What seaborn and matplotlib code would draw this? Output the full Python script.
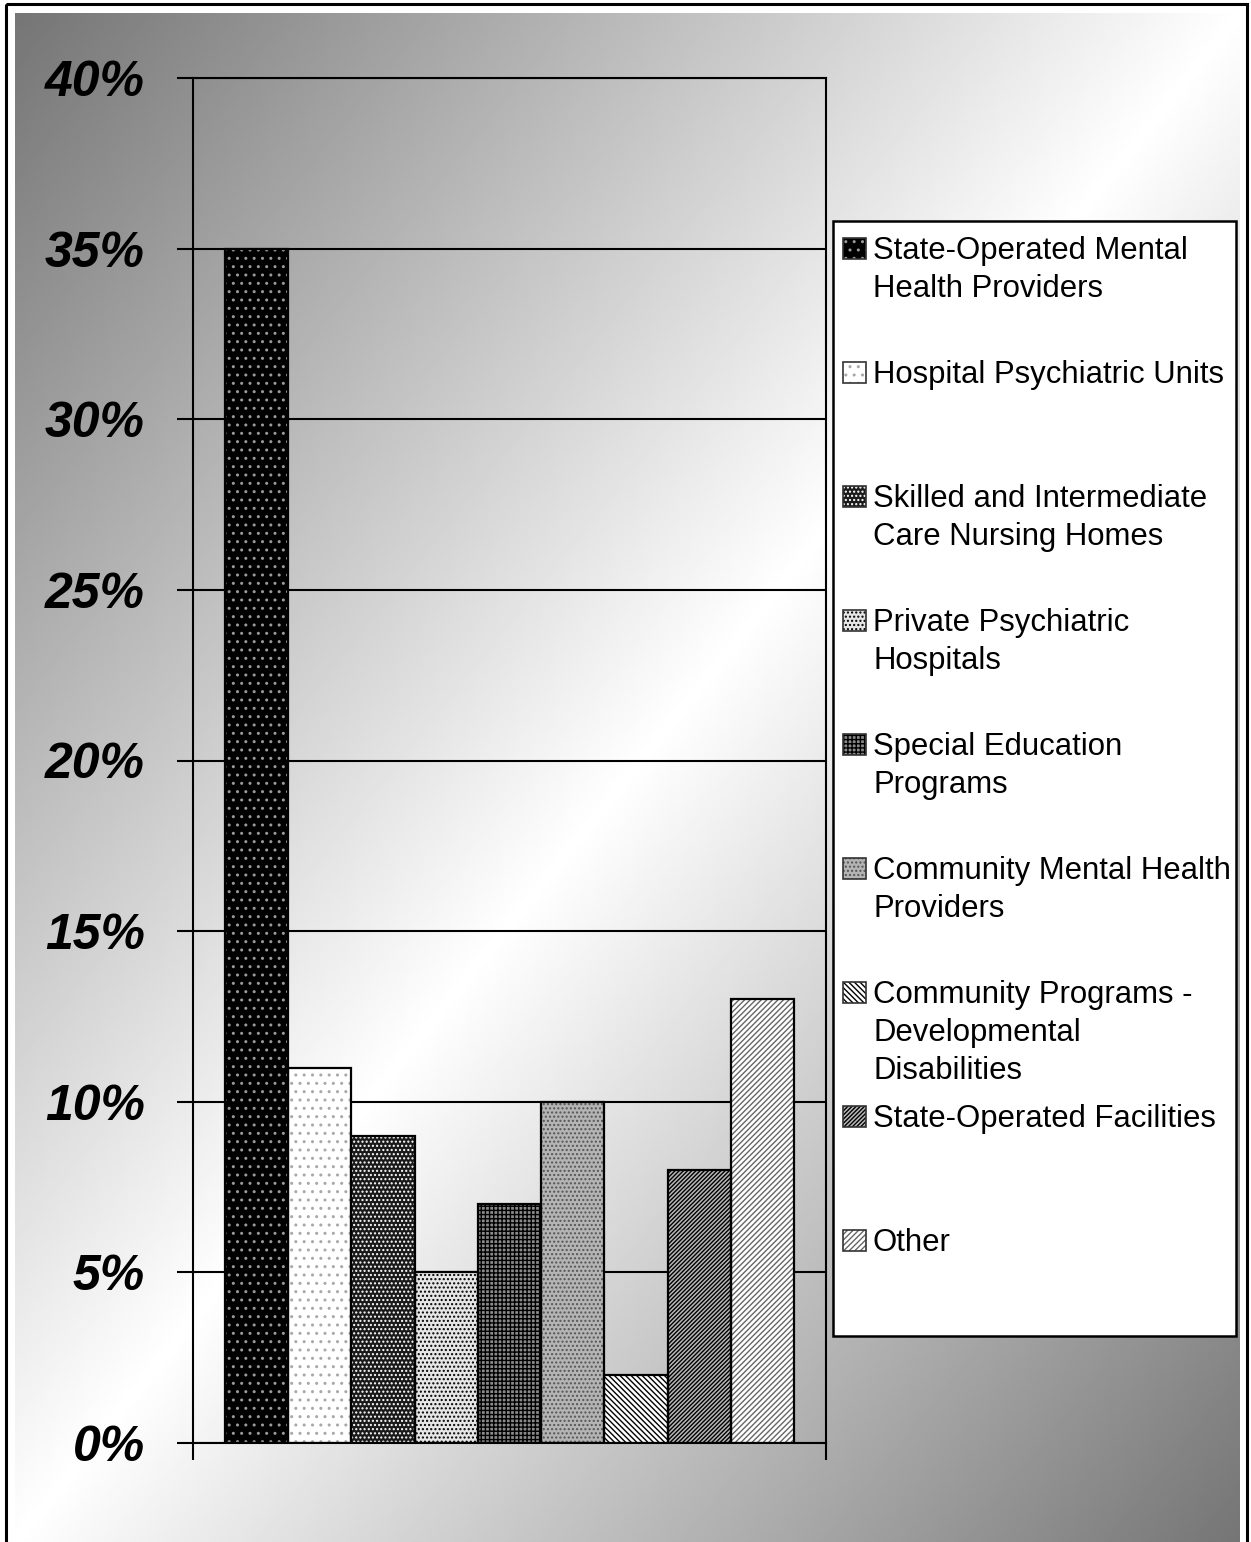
import numpy as np
import pandas as pd
import matplotlib
matplotlib.use('Agg')
import matplotlib.pyplot as plt
from matplotlib.patches import Rectangle
import seaborn as sns

# data
categories = ['State-Operated Mental\nHealth Providers',
              'Hospital Psychiatric Units',
              'Skilled and Intermediate\nCare Nursing Homes',
              'Private Psychiatric\nHospitals',
              'Special Education\nPrograms',
              'Community Mental Health\nProviders',
              'Community Programs -\nDevelopmental\nDisabilities',
              'State-Operated Facilities',
              'Other']
shares = [35, 11, 9, 5, 7, 10, 2, 8, 13]
y_ticks = [0, 5, 10, 15, 20, 25, 30, 35, 40]

# fill colour, hatch pattern, hatch colour (imitating Excel pattern fills)
face_colors = ['#000000', '#ffffff', '#1a1a1a', '#e6e6e6', '#8a8a8a',
               '#b4b4b4', '#ffffff', '#b8b8b8', '#ffffff']
hatches = ['..', '..', '....', '....', '++++', '....',
           '\\\\\\\\\\\\', '////////', '//////']
hatch_colors = ['#9a9a9a', '#a8a8a8', '#ffffff', '#000000', '#000000',
                '#555555', '#000000', '#000000', '#666666']

W, H = 1251, 1542
plt.rcParams['hatch.linewidth'] = 1.0

fig = plt.figure(figsize=(W / 100, H / 100), dpi=100)

# background: diagonal gray gradient inside a black frame
bg = fig.add_axes([0, 0, 1, 1])
u = np.linspace(0, 1, 600)
v = np.linspace(0, 1, 700)
uu, vv = np.meshgrid(u, v)
t = (uu + vv) / 2
dark = 0.46
grad = dark + (1 - dark) * (1 - np.abs(2 * t - 1))
bg.imshow(grad, extent=(15, 1240, 1542, 13), cmap='gray', vmin=0, vmax=1,
          aspect='auto', interpolation='bilinear')
bg.add_patch(Rectangle((6, 4), 1241, 1600, fill=False, edgecolor='black', lw=2.2))
bg.set_xlim(0, W)
bg.set_ylim(H, 0)
bg.axis('off')

# main plot area
ax = fig.add_axes([193 / W, (H - 1443) / H, 633 / W, 1365 / H])
ax.set_facecolor('none')

df = pd.DataFrame({'group': [''] * len(categories),
                   'type': categories,
                   'share': [s / 100 for s in shares]})
sns.barplot(data=df, x='group', y='share', hue='type', hue_order=categories,
            palette=face_colors, width=0.9, saturation=1, legend=False,
            edgecolor='black', linewidth=1.5, ax=ax)

bars = sorted(ax.patches, key=lambda p: p.get_x())
for p, hc, h in zip(bars, hatch_colors, hatches):
    p.set_hatch(h)
    p.set_edgecolor(hc)
    p.set_linewidth(0)
    ax.add_patch(Rectangle(p.get_xy(), p.get_width(), p.get_height(), fill=False,
                           edgecolor='black', lw=1.6, zorder=p.get_zorder() + 0.1))

ax.set_ylim(0, 0.40)
ax.set_xlim(-0.5, 0.5)
ax.set_yticks([y / 100 for y in y_ticks])
ax.set_yticklabels([f'{y}%' for y in y_ticks], fontfamily='Liberation Sans',
                   fontsize=36, fontweight='bold', fontstyle='italic')
ax.set_xticks([-0.5, 0.5])
ax.set_xticklabels(['', ''])
ax.tick_params(axis='y', direction='out', length=11.5, width=1.5, pad=23, colors='black')
ax.tick_params(axis='x', direction='out', length=12, width=1.5)
ax.set_xlabel(None)
ax.set_ylabel(None)
ax.yaxis.grid(True, color='black', lw=1.5)
ax.xaxis.grid(False)
ax.set_axisbelow(True)
for side in ['left', 'right', 'top', 'bottom']:
    ax.spines[side].set_visible(True)
    ax.spines[side].set_color('black')
    ax.spines[side].set_linewidth(1.5)

# legend box, laid out like the Excel one
lg = fig.add_axes([833 / W, (H - 1336) / H, 403 / W, 1115 / H])
lg.set_xlim(833, 1236)
lg.set_ylim(1336, 221)
lg.axis('off')
lg.add_patch(Rectangle((833, 221), 403, 1115, facecolor='white', edgecolor='black',
                       lw=1.8, clip_on=False))
for i, label in enumerate(categories):
    y0 = 248 + 124 * i
    lg.add_patch(Rectangle((843, y0 - 10.5), 23, 21, facecolor=face_colors[i],
                           hatch=hatches[i], edgecolor=hatch_colors[i], lw=0))
    lg.add_patch(Rectangle((843, y0 - 10.5), 23, 21, fill=False,
                           edgecolor='#333333', lw=1.2))
    for j, line in enumerate(label.split('\n')):
        lg.text(873, y0 + 11 + 38 * j, line, fontfamily='Liberation Sans',
                fontsize=22.4, va='baseline', ha='left', color='black')

fig.savefig('out.png', dpi=100)
